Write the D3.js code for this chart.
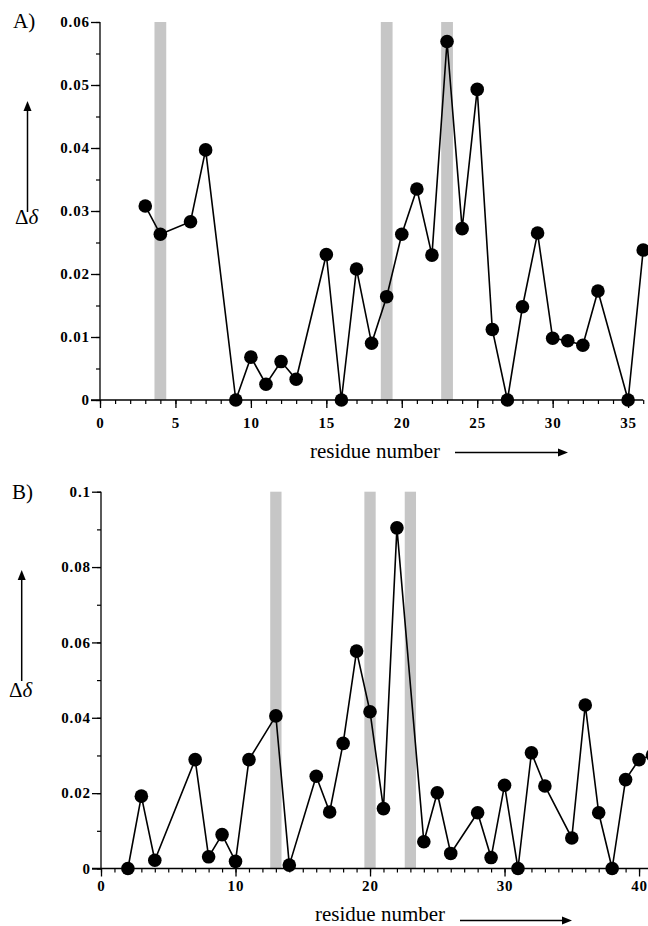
<!DOCTYPE html>
<html>
<head>
<meta charset="utf-8">
<script src="https://cdn.jsdelivr.net/npm/d3@7"></script>
<style>
  html, body { margin: 0; padding: 0; background: #fff; }
  svg { display: block; }
</style>
</head>
<body>
<svg id="chart" width="648" height="926"></svg>
<script>
// ---------- Panel A data ----------
const residuesA = [3, 4, 6, 7, 9, 10, 11, 12, 13, 15, 16, 17, 18, 19, 20, 21, 22, 23, 24, 25, 26, 27, 28, 29, 30, 31, 32, 33, 35, 36];
const deltaA    = [0.0308, 0.0263, 0.0283, 0.0397, 0, 0.0068, 0.0025, 0.0061, 0.0033, 0.0231, 0, 0.0208, 0.0090, 0.0164, 0.0263, 0.0335, 0.0230, 0.0569, 0.0272, 0.0493, 0.0112, 0, 0.0148, 0.0265, 0.0098, 0.0094, 0.0087, 0.0173, 0, 0.0238];
const bandsA    = [4, 19, 23];
const yTicksA   = [0, 0.01, 0.02, 0.03, 0.04, 0.05, 0.06];
const yTickLabelsA = ["0", "0.01", "0.02", "0.03", "0.04", "0.05", "0.06"];
const xTicksA   = [0, 5, 10, 15, 20, 25, 30, 35];

// ---------- Panel B data ----------
const residuesB = [2, 3, 4, 7, 8, 9, 10, 11, 13, 14, 16, 17, 18, 19, 20, 21, 22, 24, 25, 26, 28, 29, 30, 31, 32, 33, 35, 36, 37, 38, 39, 40, 41];
const deltaB    = [0, 0.0192, 0.0022, 0.0289, 0.0031, 0.0090, 0.0019, 0.0289, 0.0405, 0.0009, 0.0245, 0.0150, 0.0332, 0.0577, 0.0416, 0.0159, 0.0904, 0.0071, 0.0201, 0.0040, 0.0148, 0.0029, 0.0221, 0, 0.0307, 0.0219, 0.0081, 0.0434, 0.0148, 0, 0.0236, 0.0289, 0.0301];
const bandsB    = [13, 20, 23];
const yTicksB   = [0, 0.02, 0.04, 0.06, 0.08, 0.1];
const yTickLabelsB = ["0", "0.02", "0.04", "0.06", "0.08", "0.1"];
const xTicksB   = [0, 10, 20, 30, 40];

const xLabel = "residue number";
const yLabel = "Δ";

const svg = d3.select("#chart");
const serif = '"Liberation Serif", "Times New Roman", serif';

function arrowHead(g, x, y, dir) {
  const p = dir === "up"
    ? [[x, y], [x - 4, y + 10], [x + 4, y + 10]]
    : [[x, y], [x - 10, y - 4], [x - 10, y + 4]];
  g.append("path").attr("d", d3.line()(p) + "Z").attr("fill", "#000");
}

function styleTicks(a) {
  a.attr("font-family", serif).attr("font-size", 15).attr("font-weight", "bold");
  a.selectAll("text").attr("fill", "#000").attr("letter-spacing", "0.9px");
}

function panel(opts) {
  const g = svg.append("g");
  const x = d3.scaleLinear().domain(opts.xDomain).range(opts.xRange);
  const y = d3.scaleLinear().domain(opts.yDomain).range(opts.yRange);
  const y0 = y(0);

  // grey bands
  g.selectAll("rect.band").data(opts.bands).enter().append("rect")
    .attr("class", "band")
    .attr("x", d => x(d - opts.bandHalf))
    .attr("width", d => x(d + opts.bandHalf) - x(d - opts.bandHalf))
    .attr("y", y(opts.yDomain[1]))
    .attr("height", y0 - y(opts.yDomain[1]))
    .attr("fill", "#c6c6c6");

  // y axis minor
  g.append("g").attr("transform", `translate(${x(0)},0)`)
    .call(d3.axisLeft(y).tickValues(opts.yMinor).tickSize(4).tickFormat(""))
    .call(a => a.select(".domain").remove())
    .selectAll("line").attr("stroke", "#000").attr("stroke-width", 1.2);
  // y axis major
  const ya = g.append("g").attr("transform", `translate(${x(0)},0)`)
    .call(d3.axisLeft(y).tickValues(opts.yTicks).tickSize(9).tickPadding(1)
      .tickFormat((d, i) => opts.yTickLabels[i]));
  styleTicks(ya);
  ya.select(".domain").attr("d", `M0,${y0}V${y(opts.yDomain[1])}`).attr("stroke", "#000").attr("stroke-width", 1.3);
  ya.selectAll("line").attr("stroke", "#000").attr("stroke-width", 1.3);

  // x axis minor
  g.append("g").attr("transform", `translate(0,${y0})`)
    .call(d3.axisBottom(x).tickValues(opts.xMinor).tickSize(4).tickFormat(""))
    .call(a => a.select(".domain").remove())
    .selectAll("line").attr("stroke", "#000").attr("stroke-width", 1.2);
  // x axis major
  const xa = g.append("g").attr("transform", `translate(0,${y0})`)
    .call(d3.axisBottom(x).tickValues(opts.xTicks).tickSize(8).tickPadding(opts.xPad).tickFormat(d3.format("d")));
  styleTicks(xa);
  xa.select(".domain").attr("d", `M${x(0) - 9},0H${opts.xAxisEnd}`).attr("stroke", "#000").attr("stroke-width", 1.3);
  xa.selectAll("line").attr("stroke", "#000").attr("stroke-width", 1.3);

  // line + points
  const pts = opts.res.map((r, i) => [r, opts.vals[i]]);
  g.append("path").datum(pts)
    .attr("d", d3.line().x(d => x(d[0])).y(d => y(d[1])))
    .attr("fill", "none").attr("stroke", "#000").attr("stroke-width", 1.6);
  g.selectAll("circle.pt").data(pts).enter().append("circle")
    .attr("class", "pt")
    .attr("cx", d => x(d[0])).attr("cy", d => y(d[1])).attr("r", 6.8)
    .attr("fill", "#000");

  // panel label
  g.append("text").attr("x", opts.labelPos[0]).attr("y", opts.labelPos[1])
    .attr("font-family", serif).attr("font-size", 21).text(opts.panelLabel);

  // y label with arrow
  const ax = opts.yArrow;
  g.append("line").attr("x1", ax.x).attr("x2", ax.x).attr("y1", ax.y2).attr("y2", ax.y1 + 8)
    .attr("stroke", "#000").attr("stroke-width", 1.5);
  arrowHead(g, ax.x, ax.y1, "up");
  const t = g.append("text").attr("x", ax.tx).attr("y", ax.ty)
    .attr("font-family", serif).attr("font-size", 21);
  t.append("tspan").text(yLabel);
  t.append("tspan").attr("font-style", "italic").text("δ");

  // x label with arrow
  const xl = opts.xArrow;
  g.append("text").attr("x", xl.tx).attr("y", xl.ty)
    .attr("font-family", serif).attr("font-size", 21).text(xLabel);
  g.append("line").attr("x1", xl.x1).attr("x2", xl.x2 - 8).attr("y1", xl.y).attr("y2", xl.y)
    .attr("stroke", "#000").attr("stroke-width", 1.5);
  arrowHead(g, xl.x2, xl.y, "right");
}

panel({
  res: residuesA, vals: deltaA, bands: bandsA, bandHalf: 0.39,
  xDomain: [0, 36], xRange: [100, 643.2], xAxisEnd: 643.2,
  yDomain: [0, 0.06], yRange: [400, 22],
  yTicks: yTicksA, yTickLabels: yTickLabelsA,
  yMinor: d3.range(0, 0.0601, 0.005),
  xTicks: xTicksA, xMinor: d3.range(0, 37, 1), xPad: 9,
  panelLabel: "A)", labelPos: [13, 28],
  yArrow: { x: 27.5, y1: 101, y2: 212, tx: 15, ty: 224 },
  xArrow: { tx: 310, ty: 458, x1: 455, x2: 568, y: 452.5 }
});

panel({
  res: residuesB, vals: deltaB, bands: bandsB, bandHalf: 0.42,
  xDomain: [0, 41], xRange: [101, 652.5], xAxisEnd: 660,
  yDomain: [0, 0.1], yRange: [868.5, 491.7],
  yTicks: yTicksB, yTickLabels: yTickLabelsB,
  yMinor: d3.range(0, 0.1001, 0.01),
  xTicks: xTicksB, xMinor: d3.range(0, 42, 1), xPad: 4,
  panelLabel: "B)", labelPos: [12, 499],
  yArrow: { x: 21.7, y1: 570, y2: 681, tx: 9, ty: 697 },
  xArrow: { tx: 315, ty: 921, x1: 460, x2: 572, y: 920.5 }
});
</script>
</body>
</html>
